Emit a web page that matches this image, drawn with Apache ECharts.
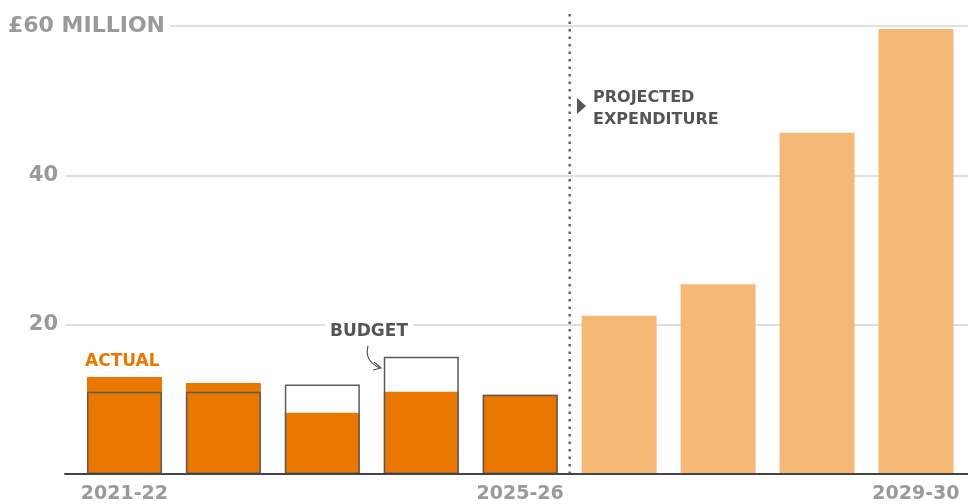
<!DOCTYPE html>
<html>
<head>
<meta charset="utf-8">
<script src="https://cdn.jsdelivr.net/npm/echarts@6/dist/echarts.min.js"></script>
<style>
html,body{margin:0;padding:0;background:#fff;}
#chart{width:968px;height:504px;}
</style>
</head>
<body>
<div id="chart"></div>
<script>
const categories = ['2021-22','2022-23','2023-24','2024-25','2025-26','2026-27','2027-28','2028-29','2029-30'];
const actual    = [13.0, 12.2, 8.2, 11.0, 10.6, null, null, null, null];
const budget    = [11.0, 11.0, 12.0, 15.7, 10.6, null, null, null, null];
const projected = [null, null, null, null, null, 21.2, 25.4, 45.7, 59.6];
const xLabelIndices = [0, 4, 8];
const yTicks = [20, 40];
const yTopLabel = '£60 MILLION';
const dividerAt = 4.5;

const FONT = '"DejaVu Sans", sans-serif';
const toPairs = arr => arr.map((v, i) => v == null ? null : [i, v]).filter(Boolean);
const X_MIN = -0.601, X_MAX = 8.526;

const chart = echarts.init(document.getElementById('chart'), null, {renderer: 'canvas'});
chart.setOption({
  animation: false,
  grid: [
    {left: 65, right: 0, top: 26, bottom: 30, containLabel: false},
    {left: 65, right: 0, top: 12, bottom: 30, containLabel: false}
  ],
  xAxis: [{
    type: 'value', min: X_MIN, max: X_MAX, gridIndex: 0,
    z: 10,
    axisLine: {show: true, onZero: true, lineStyle: {color: '#444', width: 2}},
    axisTick: {show: false},
    splitLine: {show: false},
    axisLabel: {
      customValues: xLabelIndices,
      formatter: v => categories[Math.round(v)] || '',
      color: '#9a9a9a', fontFamily: FONT, fontWeight: 'bold', fontSize: 19, margin: 11
    }
  }, {
    type: 'value', min: X_MIN, max: X_MAX, gridIndex: 1, show: false
  }],
  yAxis: [{
    type: 'value', min: 0, max: 60, interval: 20, gridIndex: 0,
    axisLine: {show: false}, axisTick: {show: false},
    splitLine: {show: true, lineStyle: {color: '#d6d6d6', width: 1.5}},
    axisLabel: {
      formatter: v => yTicks.includes(v) ? String(v) : '',
      color: '#9a9a9a', fontFamily: FONT, fontWeight: 'bold', fontSize: 21, margin: 7
    }
  }, {
    type: 'value', min: 0, max: 1, gridIndex: 1, show: false
  }],
  series: [
    {
      name: 'budgetFill', type: 'bar', barWidth: 75, barGap: '-100%',
      data: toPairs(budget), itemStyle: {color: '#fff'}, silent: true
    },
    {
      name: 'actual', type: 'bar', barWidth: 75, barGap: '-100%',
      data: toPairs(actual), itemStyle: {color: '#E97700'}
    },
    {
      name: 'projected', type: 'bar', barWidth: 75, barGap: '-100%',
      data: toPairs(projected), itemStyle: {color: '#F6B877'}
    },
    {
      name: 'budgetOutline', type: 'bar', barWidth: 75, barGap: '-100%',
      data: toPairs(budget),
      itemStyle: {color: 'rgba(0,0,0,0)', borderColor: '#5a5a5a', borderWidth: 1.5}
    },
    {
      name: 'divider', type: 'line', xAxisIndex: 1, yAxisIndex: 1,
      data: [[dividerAt, 0], [dividerAt, 1]], symbol: 'none', silent: true,
      lineStyle: {color: '#666', width: 2.5, type: [2.5, 5], cap: 'butt'}, z: 5
    }
  ],
  graphic: [
    {type: 'text', x: 8, y: 26, z: 100,
     style: {text: yTopLabel, fill: '#9a9a9a', font: 'bold 22px ' + FONT, verticalAlign: 'middle',
             backgroundColor: '#fff', padding: [2, 5, 2, 0]}},
    {type: 'text', x: 85, y: 362, z: 100,
     style: {text: 'ACTUAL', fill: '#E97700', font: 'bold 17px ' + FONT, verticalAlign: 'middle'}},
    {type: 'text', x: 325, y: 332, z: 100,
     style: {text: 'BUDGET', fill: '#555', font: 'bold 17px ' + FONT, verticalAlign: 'middle',
             backgroundColor: '#fff', padding: [2, 5, 2, 5]}},
    {type: 'bezierCurve', z: 100,
     shape: {x1: 368, y1: 346, cpx1: 364, cpy1: 361, x2: 380, y2: 368},
     style: {stroke: '#555', lineWidth: 1.2, fill: null}},
    {type: 'polyline', z: 100,
     shape: {points: [[374, 362], [381, 368], [373, 370]]},
     style: {stroke: '#555', lineWidth: 1.2, fill: null}},
    {type: 'polygon', z: 100,
     shape: {points: [[577, 98], [586, 106], [577, 114]]},
     style: {fill: '#555'}},
    {type: 'text', x: 593, y: 109, z: 100,
     style: {text: 'PROJECTED\nEXPENDITURE', fill: '#555', font: 'bold 16px ' + FONT,
             verticalAlign: 'middle', lineHeight: 22}}
  ]
});
</script>
</body>
</html>
